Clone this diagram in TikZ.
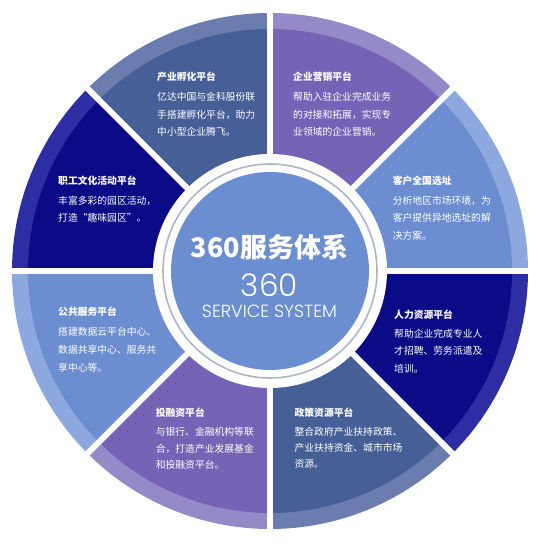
\documentclass[tikz,border=0pt]{standalone}
\usepackage{fontspec}
\usepackage{graphicx}
\setmainfont{Noto Sans CJK SC}
\newfontfamily\thinfont{Poppins Light}
\definecolor{steelM}{HTML}{465F97}
\definecolor{steelB}{HTML}{6A7DAE}
\definecolor{purpM}{HTML}{7663B6}
\definecolor{purpB}{HTML}{958AC8}
\definecolor{liteM}{HTML}{6C8ED0}
\definecolor{liteB}{HTML}{8DA8DE}
\definecolor{navyM}{HTML}{0B0B88}
\definecolor{navyB}{HTML}{2D2DA4}
\definecolor{centerC}{HTML}{6A8ED0}
\definecolor{ringC}{HTML}{AEB6C6}
\newcommand\mysector[3]{%
  \fill[#2] (c) -- ++(#1:258) arc[start angle=#1, end angle=#1+45, radius=258] -- cycle;
  \fill[#3] (c) -- ++(#1:242) arc[start angle=#1, end angle=#1+45, radius=242] -- cycle;}
\tikzset{
  ttl/.style={anchor=west, inner sep=0pt, text=white, font=\fontsize{9.8}{12}\selectfont\bfseries},
  bdy/.style={anchor=west, inner sep=0pt, text=white, font=\fontsize{9.8}{12}\selectfont},
  sep/.style={white, line width=6pt},
  ctext/.style={inner sep=0pt, text=white}
}
\begin{document}
\begin{tikzpicture}[x=1pt,y=1pt]
\useasboundingbox (0,0) rectangle (540,546);
\fill[white] (0,0) rectangle (540,546);
\coordinate (c) at (270,275);
\mysector{0}{liteB}{liteM}
\mysector{45}{purpB}{purpM}
\mysector{90}{steelB}{steelM}
\mysector{135}{navyB}{navyM}
\mysector{180}{liteB}{liteM}
\mysector{225}{purpB}{purpM}
\mysector{270}{steelB}{steelM}
\mysector{315}{navyB}{navyM}
\foreach \a in {0,45,...,315} \draw[sep] (c) -- ++(\a:266);
\fill[white] (c) circle[radius=117];
\draw[ringC, line width=1.6pt] (c) circle[radius=107];
\fill[centerC] (c) circle[radius=99];
% center texts
\node[ctext, font=\bfseries] (ct) at (269.5,299) {\resizebox{157pt}{!}{360服务体系}};
\node[ctext] (cn) at (269.5,261) {\resizebox{57pt}{!}{\thinfont 360}};
\node[ctext] (cs) at (269.5,234.4) {\resizebox{135pt}{!}{\thinfont SERVICE SYSTEM}};
% top-left
\node[ttl] (t1) at (157,469.5) {产业孵化平台};
\node[bdy] (b1a) at (157,449) {亿达中国与金科股份联};
\node[bdy] (b1b) at (157,431.4) {手搭建孵化平台，助力};
\node[bdy] (b1c) at (157,413.8) {中小型企业腾飞。};
% top-right
\node[ttl] (t2) at (293,469.5) {企业营销平台};
\node[bdy] (b2a) at (293,449) {帮助入驻企业完成业务};
\node[bdy] (b2b) at (293,431.4) {的对接和拓展，实现专};
\node[bdy] (b2c) at (293,413.8) {业领域的企业营销。};
% left-upper
\node[ttl] (t3) at (58,365.6) {职工文化活动平台};
\node[bdy] (b3a) at (58,345.6) {丰富多彩的园区活动，};
\node[bdy] (b3b) at (58,328.2) {打造“趣味园区”。};
% right-upper
\node[ttl] (t4) at (392.6,365.6) {客户全国选址};
\node[bdy] (b4a) at (392.6,345.4) {分析地区市场环境，为};
\node[bdy] (b4b) at (392.6,327.8) {客户提供异地选址的解};
\node[bdy] (b4c) at (392.6,310.2) {决方案。};
% left-lower
\node[ttl] (t5) at (58,234.4) {公共服务平台};
\node[bdy] (b5a) at (58,214.4) {搭建数据云平台中心、};
\node[bdy] (b5b) at (58,196.5) {数据共享中心、服务共};
\node[bdy] (b5c) at (58,178.2) {享中心等。};
% right-lower
\node[ttl] (t6) at (394,231.3) {人力资源平台};
\node[bdy] (b6a) at (394,212.7) {帮助企业完成专业人};
\node[bdy] (b6b) at (394,194.8) {才招聘、劳务派遣及};
\node[bdy] (b6c) at (394,176.9) {培训。};
% bottom-left
\node[ttl] (t7) at (155.6,133.5) {投融资平台};
\node[bdy] (b7a) at (155.6,113.8) {与银行、金融机构等联};
\node[bdy] (b7b) at (155.6,97.3) {合，打造产业发展基金};
\node[bdy] (b7c) at (155.6,81.1) {和投融资平台。};
% bottom-right
\node[ttl] (t8) at (294.4,133.5) {政策资源平台};
\node[bdy] (b8a) at (294.4,114.5) {整合政府产业扶持政策、};
\node[bdy] (b8b) at (294.4,98.3) {产业扶持资金、城市市场};
\node[bdy] (b8c) at (294.4,82.2) {资源。};
\end{tikzpicture}
\end{document}
